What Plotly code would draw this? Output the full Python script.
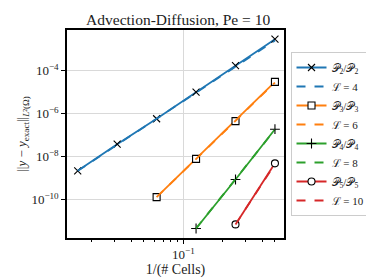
import plotly.graph_objects as go

# data
h2 = [1/64, 1/32, 1/16, 1/8, 1/4, 1/2]
e2 = [2.2e-9, 3.8e-8, 5.8e-7, 1.0e-5, 1.73e-4, 2.9e-3]
r2 = [2.2e-9, 3.6e-8, 5.6e-7, 9.2e-6, 1.5e-4, 2.5e-3]

h3 = [1/16, 1/8, 1/4, 1/2]
e3 = [1.32e-10, 7.9e-9, 4.5e-7, 3.0e-5]
r3 = [1.32e-10, 7.9e-9, 4.6e-7, 2.8e-5]

h4 = [1/8, 1/4, 1/2]
e4 = [4.6e-12, 8.7e-10, 1.9e-7]
r4 = [4.6e-12, 8.9e-10, 1.8e-7]

h5 = [1/4, 1/2]
e5 = [7.1e-12, 4.9e-9]
r5 = [7.1e-12, 4.6e-9]

series = [
    ("𝒫<sub>2</sub>/𝒫<sub>2</sub>", "ℒ = 4", h2, e2, r2, "#1f77b4", "x-thin", "black"),
    ("𝒫<sub>3</sub>/𝒫<sub>3</sub>", "ℒ = 6", h3, e3, r3, "#ff7f0e", "square", "white"),
    ("𝒫<sub>4</sub>/𝒫<sub>4</sub>", "ℒ = 8", h4, e4, r4, "#2ca02c", "cross-thin", "black"),
    ("𝒫<sub>5</sub>/𝒫<sub>5</sub>", "ℒ = 10", h5, e5, r5, "#d62728", "circle", "white"),
]

fig = go.Figure()
for name, rname, h, e, r, col, sym, fill in series:
    fig.add_trace(go.Scatter(
        x=h, y=e, name=name, mode="lines+markers",
        line=dict(color=col, width=1.8),
        marker=dict(symbol=sym, size=7, color=fill,
                    line=dict(color="black", width=1.1)),
    ))
    fig.add_trace(go.Scatter(
        x=h, y=r, name=rname, mode="lines",
        line=dict(color=col, width=1.8, dash="dash"),
    ))

serif = "Liberation Serif, DejaVu Serif, serif"
fig.update_layout(
    width=374, height=278,
    margin=dict(l=59, r=82, t=22, b=40),
    paper_bgcolor="white", plot_bgcolor="white",
    font=dict(family=serif, size=12, color="#222"),
    title=dict(text="Advection-Diffusion, Pe = 10", x=0.455, xanchor="center",
               y=0.958, yanchor="middle", font=dict(size=15.5, family=serif)),
    legend=dict(x=1.03, y=0.5, xanchor="left", yanchor="middle",
                bordercolor="#cccccc", borderwidth=1, bgcolor="white",
                font=dict(size=11, family=serif), itemwidth=30,
                tracegroupgap=0),
    showlegend=True,
)
fig.update_xaxes(
    type="log", range=[-1.888, -0.232],
    tickvals=[0.1], ticktext=["10<sup>−1</sup>"],
    tickfont=dict(size=13),
    ticks="outside", ticklen=4, tickcolor="black",
    showgrid=True, gridcolor="#d9d9d9", gridwidth=1,
    showline=True, linecolor="black", linewidth=1.5, mirror=True,
    minor=dict(tickvals=[0.02, 0.03, 0.04, 0.05, 0.06, 0.07, 0.08, 0.09,
                         0.2, 0.3, 0.4, 0.5],
               ticks="outside", ticklen=2, tickcolor="black", showgrid=False),
    title=dict(text="1/(# Cells)", standoff=2, font=dict(size=14)),
    zeroline=False,
)
fig.update_yaxes(
    type="log", range=[-11.78, -2.11],
    tickvals=[1e-10, 1e-8, 1e-6, 1e-4],
    ticktext=["10<sup>−10</sup>", "10<sup>−8</sup>", "10<sup>−6</sup>", "10<sup>−4</sup>"],
    tickfont=dict(size=13),
    ticks="outside", ticklen=4, tickcolor="black",
    showgrid=True, gridcolor="#d9d9d9", gridwidth=1,
    showline=True, linecolor="black", linewidth=1.5, mirror=True,
    title=dict(text="||<i>y</i> − <i>y</i><sub>exact</sub>||<sub><i>L</i>²(Ω)</sub>",
               standoff=2, font=dict(size=13)),
    zeroline=False,
)
fig.write_html("out.html")
